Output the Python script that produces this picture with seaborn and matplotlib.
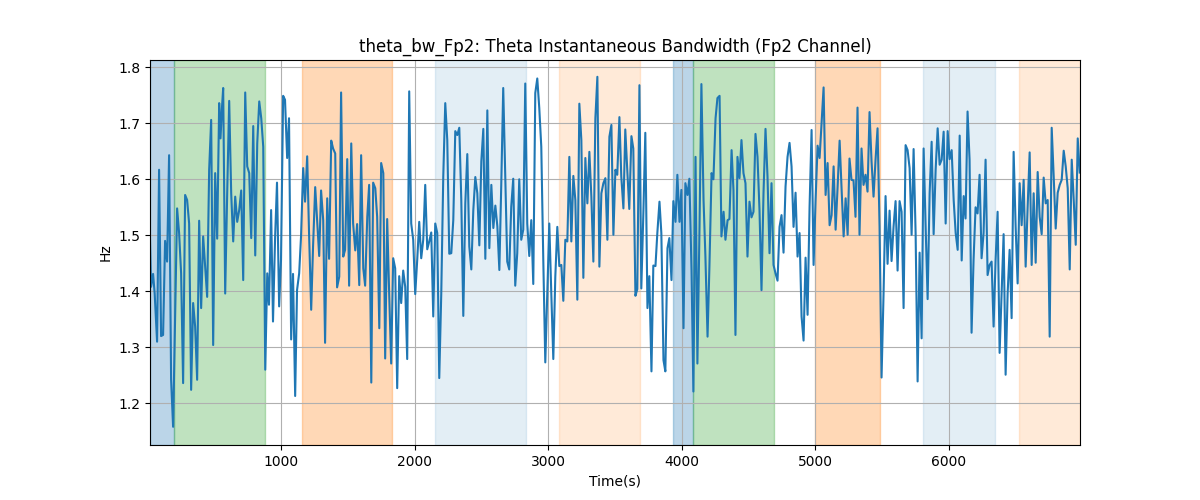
import matplotlib
matplotlib.use("Agg")
import matplotlib.pyplot as plt
import seaborn as sns
import numpy as np

# ---- data ----
time_s = [
    17, 25, 40, 52, 70, 85, 100, 115, 130, 145, 160, 175, 190, 220, 235, 250, 265, 280, 295, 310,
    325, 340, 355, 370, 385, 400, 415, 430, 445, 460, 475, 490, 505, 520, 535, 545, 555, 565, 580, 595,
    610, 625, 640, 655, 670, 685, 700, 715, 730, 745, 760, 775, 790, 805, 820, 835, 850, 865, 880, 895,
    908, 924, 938, 954, 968, 984, 998, 1014, 1028, 1044, 1058, 1074, 1088, 1104, 1118, 1134, 1148, 1164, 1178, 1194,
    1208, 1224, 1238, 1254, 1268, 1284, 1298, 1314, 1328, 1344, 1358, 1374, 1388, 1404, 1418, 1434, 1448, 1464, 1478, 1494,
    1508, 1524, 1538, 1554, 1568, 1584, 1598, 1614, 1628, 1644, 1658, 1674, 1688, 1704, 1718, 1734, 1748, 1764,
    1778, 1793, 1808, 1823, 1838, 1853, 1868, 1883, 1898, 1913, 1928, 1943, 1958, 1973, 1988, 2003, 2018, 2033, 2048, 2063,
    2078, 2093, 2108, 2123, 2138, 2153, 2168, 2183, 2198, 2213, 2228, 2243, 2258, 2273, 2288, 2303, 2318, 2333, 2348, 2363,
    2378, 2393, 2408, 2423, 2438, 2453, 2468, 2483, 2498, 2513, 2528, 2543, 2558, 2573, 2588, 2603, 2618, 2633,
    2647, 2662, 2677, 2692, 2707, 2722, 2737, 2752, 2767, 2782, 2797, 2812, 2827, 2842, 2857, 2872, 2887, 2902, 2917, 2932,
    2947, 2962, 2977, 2992, 3007, 3022, 3037, 3052, 3067, 3082, 3097, 3112, 3127, 3142, 3157, 3172, 3187, 3202, 3217, 3232,
    3247, 3262, 3277, 3292, 3307, 3322, 3337, 3352, 3367, 3382, 3397, 3412, 3427, 3442, 3457, 3472, 3487, 3502,
    3516, 3532, 3546, 3562, 3576, 3592, 3606, 3622, 3636, 3652, 3666, 3682, 3696, 3712, 3726, 3742, 3756, 3772, 3786, 3802,
    3816, 3832, 3846, 3862, 3876, 3892, 3906, 3922, 3936, 3952, 3966, 3982, 3996, 4012, 4026, 4042, 4056, 4072, 4086, 4102,
    4116, 4132, 4146, 4162, 4176, 4192, 4206, 4222, 4236, 4252, 4266, 4282, 4296, 4312, 4326, 4342, 4356, 4372,
    4386, 4401, 4416, 4431, 4446, 4461, 4476, 4491, 4506, 4521, 4536, 4551, 4566, 4581, 4596, 4611, 4626, 4641, 4656, 4671,
    4686, 4701, 4716, 4731, 4746, 4761, 4776, 4791, 4806, 4821, 4836, 4851, 4866, 4881, 4896, 4911, 4926, 4941, 4956, 4971,
    4986, 5001, 5016, 5031, 5046, 5061, 5076, 5091, 5106, 5121, 5136, 5151, 5166, 5181, 5196, 5211, 5226, 5241,
    5255, 5270, 5285, 5300, 5315, 5330, 5345, 5360, 5375, 5390, 5405, 5420, 5435, 5450, 5465, 5480, 5495, 5510, 5525, 5540,
    5555, 5570, 5585, 5600, 5615, 5630, 5645, 5660, 5675, 5690, 5705, 5720, 5735, 5750, 5765, 5780, 5795, 5810, 5825, 5840,
    5855, 5870, 5885, 5900, 5915, 5930, 5945, 5960, 5975, 5990, 6005, 6020, 6035, 6050, 6065, 6080, 6095, 6110,
    6124, 6139, 6154, 6169, 6184, 6199, 6214, 6229, 6244, 6259, 6274, 6289, 6304, 6319, 6334, 6349, 6364, 6379, 6394, 6409,
    6424, 6439, 6454, 6469, 6484, 6499, 6514, 6529, 6544, 6559, 6574, 6589, 6604, 6619, 6634, 6649, 6664, 6679, 6694, 6709,
    6724, 6739, 6754, 6769, 6784, 6799, 6814, 6829, 6844, 6859, 6874, 6889, 6904, 6919, 6934, 6949, 6964, 6979,
]

bandwidth_hz = [
    1.492, 1.408, 1.431, 1.396, 1.310, 1.617, 1.320, 1.322, 1.490, 1.453, 1.643, 1.242, 1.158, 1.548, 1.504, 1.432, 1.236, 1.572, 1.563, 1.521,
    1.224, 1.379, 1.337, 1.242, 1.526, 1.370, 1.498, 1.444, 1.390, 1.617, 1.706, 1.304, 1.611, 1.494, 1.736, 1.673, 1.724, 1.763, 1.396, 1.575,
    1.740, 1.575, 1.489, 1.569, 1.524, 1.545, 1.580, 1.420, 1.755, 1.623, 1.611, 1.495, 1.695, 1.464, 1.664, 1.739, 1.709, 1.658, 1.260, 1.432,
    1.376, 1.545, 1.346, 1.498, 1.594, 1.373, 1.456, 1.749, 1.742, 1.638, 1.709, 1.314, 1.431, 1.213, 1.402, 1.432, 1.498, 1.620, 1.560, 1.641,
    1.504, 1.367, 1.480, 1.586, 1.527, 1.463, 1.580, 1.527, 1.308, 1.566, 1.458, 1.669, 1.655, 1.646, 1.407, 1.426, 1.755, 1.462, 1.474, 1.636,
    1.410, 1.664, 1.521, 1.473, 1.520, 1.411, 1.643, 1.441, 1.410, 1.533, 1.590, 1.237, 1.594, 1.584, 1.533, 1.334, 1.629, 1.611,
    1.280, 1.529, 1.396, 1.271, 1.459, 1.441, 1.227, 1.427, 1.379, 1.437, 1.408, 1.279, 1.757, 1.521, 1.492, 1.395, 1.456, 1.524, 1.459, 1.492,
    1.590, 1.475, 1.489, 1.505, 1.355, 1.521, 1.504, 1.245, 1.396, 1.605, 1.736, 1.670, 1.467, 1.468, 1.527, 1.686, 1.679, 1.692, 1.563, 1.356,
    1.557, 1.645, 1.480, 1.439, 1.545, 1.604, 1.575, 1.482, 1.632, 1.690, 1.458, 1.723, 1.477, 1.590, 1.513, 1.553, 1.516, 1.438,
    1.587, 1.763, 1.605, 1.453, 1.439, 1.551, 1.601, 1.410, 1.468, 1.600, 1.492, 1.510, 1.771, 1.521, 1.463, 1.527, 1.413, 1.754, 1.780, 1.727,
    1.658, 1.456, 1.273, 1.396, 1.521, 1.396, 1.279, 1.426, 1.515, 1.445, 1.447, 1.383, 1.492, 1.489, 1.640, 1.489, 1.606, 1.563, 1.385, 1.735,
    1.670, 1.424, 1.638, 1.557, 1.649, 1.569, 1.453, 1.709, 1.783, 1.444, 1.575, 1.593, 1.602, 1.492, 1.676, 1.697, 1.501, 1.617,
    1.608, 1.711, 1.605, 1.548, 1.689, 1.611, 1.547, 1.677, 1.655, 1.392, 1.404, 1.768, 1.405, 1.545, 1.683, 1.370, 1.427, 1.257, 1.446, 1.445,
    1.504, 1.560, 1.504, 1.277, 1.257, 1.477, 1.495, 1.420, 1.561, 1.524, 1.608, 1.524, 1.581, 1.334, 1.593, 1.572, 1.601, 1.438, 1.221, 1.640,
    1.271, 1.516, 1.770, 1.563, 1.462, 1.319, 1.444, 1.611, 1.600, 1.709, 1.745, 1.749, 1.498, 1.542, 1.492, 1.527, 1.529, 1.652,
    1.581, 1.322, 1.640, 1.602, 1.670, 1.611, 1.593, 1.462, 1.560, 1.532, 1.542, 1.681, 1.640, 1.545, 1.402, 1.575, 1.690, 1.605, 1.468, 1.593,
    1.447, 1.432, 1.419, 1.515, 1.536, 1.469, 1.587, 1.640, 1.665, 1.623, 1.515, 1.576, 1.462, 1.504, 1.355, 1.312, 1.460, 1.358, 1.551, 1.688,
    1.447, 1.563, 1.660, 1.638, 1.700, 1.764, 1.572, 1.629, 1.518, 1.536, 1.623, 1.510, 1.587, 1.669, 1.581, 1.498, 1.566, 1.501,
    1.637, 1.599, 1.598, 1.533, 1.728, 1.501, 1.655, 1.590, 1.608, 1.578, 1.720, 1.632, 1.569, 1.635, 1.691, 1.516, 1.246, 1.396, 1.570, 1.449,
    1.544, 1.454, 1.516, 1.561, 1.437, 1.561, 1.542, 1.370, 1.661, 1.652, 1.620, 1.501, 1.654, 1.504, 1.239, 1.469, 1.316, 1.655, 1.516, 1.386,
    1.575, 1.667, 1.502, 1.617, 1.691, 1.626, 1.635, 1.685, 1.521, 1.686, 1.636, 1.652, 1.563, 1.504, 1.474, 1.678, 1.455, 1.570,
    1.530, 1.721, 1.635, 1.326, 1.456, 1.550, 1.539, 1.608, 1.459, 1.504, 1.635, 1.429, 1.447, 1.453, 1.337, 1.456, 1.542, 1.290, 1.396, 1.502,
    1.251, 1.396, 1.474, 1.352, 1.649, 1.516, 1.414, 1.593, 1.518, 1.599, 1.444, 1.551, 1.648, 1.447, 1.575, 1.451, 1.613, 1.533, 1.502, 1.603,
    1.557, 1.563, 1.319, 1.692, 1.605, 1.512, 1.576, 1.590, 1.599, 1.651, 1.623, 1.584, 1.439, 1.635, 1.563, 1.483, 1.673, 1.612,
]

# shaded intervals (start, end) and their category
span_starts = [17, 197, 1158, 2148, 3077, 3931, 4083, 4993, 5804, 6524]
span_ends = [197, 880, 1831, 2835, 3689, 4083, 4686, 5487, 6344, 6981]
span_kinds = ["blue", "green", "orange", "lightblue", "lightorange",
              "blue", "green", "orange", "lightblue", "lightorange"]

title = "theta_bw_Fp2: Theta Instantaneous Bandwidth (Fp2 Channel)"

# ---- styling ----
kind_style = {
    "blue": ("tab:blue", 0.3),
    "green": ("tab:green", 0.3),
    "orange": ("tab:orange", 0.3),
    "lightblue": ("tab:blue", 0.12),
    "lightorange": ("tab:orange", 0.16),
}

fig, ax = plt.subplots(figsize=(12, 5), dpi=100)

for s, e, k in zip(span_starts, span_ends, span_kinds):
    c, a = kind_style[k]
    ax.axvspan(s, e, color=c, alpha=a)

sns.lineplot(x=time_s, y=bandwidth_hz, ax=ax, color="tab:blue", linewidth=1.5, sort=False)

ax.grid(True)
ax.set_xlim(time_s[0], 6981)
ax.set_ylim(1.1255, 1.813)
ax.set_title(title)
ax.set_xlabel("Time(s)")
ax.set_ylabel("Hz")

fig.savefig("out.png", dpi=100)
